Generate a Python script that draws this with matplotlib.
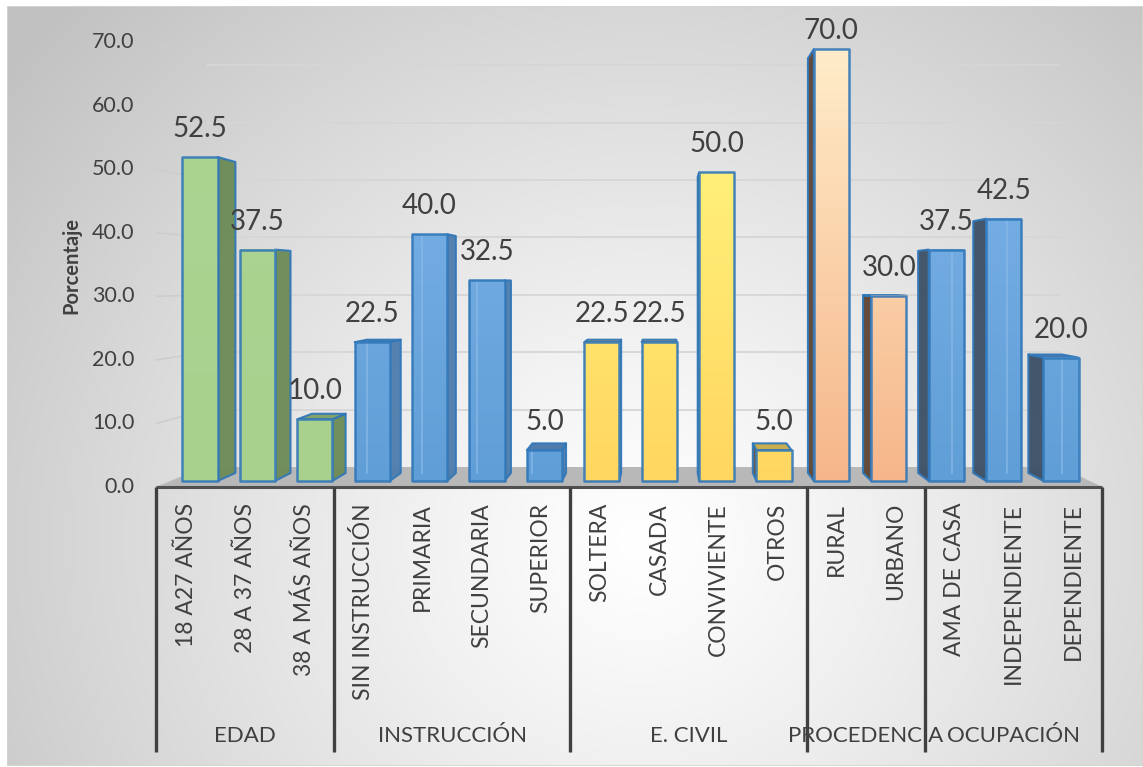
import numpy as np
import matplotlib
matplotlib.use("Agg")
import matplotlib.pyplot as plt
from matplotlib.patches import Polygon, Rectangle

# ---- data -------------------------------------------------------------
group_names = ["EDAD", "INSTRUCCIÓN", "E. CIVIL", "PROCEDENCIA", "OCUPACIÓN"]

edad_labels = ["18 A27 AÑOS", "28 A 37 AÑOS", "38 A MÁS AÑOS"]
edad_values = [52.5, 37.5, 10.0]

instruccion_labels = ["SIN INSTRUCCIÓN", "PRIMARIA", "SECUNDARIA", "SUPERIOR"]
instruccion_values = [22.5, 40.0, 32.5, 5.0]

civil_labels = ["SOLTERA", "CASADA", "CONVIVIENTE", "OTROS"]
civil_values = [22.5, 22.5, 50.0, 5.0]

procedencia_labels = ["RURAL", "URBANO"]
procedencia_values = [70.0, 30.0]

ocupacion_labels = ["AMA DE CASA", "INDEPENDIENTE", "DEPENDIENTE"]
ocupacion_values = [37.5, 42.5, 20.0]

y_ticks = [0, 10, 20, 30, 40, 50, 60, 70]
y_label = "Porcentaje"

# ---- colours per group --------------------------------------------------
def rgb(r, g, b):
    return (r / 255, g / 255, b / 255)

palettes = {
    "green": dict(bottom=rgb(169, 209, 142), top=rgb(172, 212, 146),
                  side_r=rgb(107, 138, 85), side_l=rgb(80, 100, 62),
                  lid=rgb(126, 158, 99)),
    "blue": dict(bottom=rgb(96, 158, 215), top=rgb(128, 182, 234),
                 side_r=rgb(78, 124, 172), side_l=rgb(59, 79, 102),
                 lid=rgb(72, 116, 165)),
    "yellow": dict(bottom=rgb(255, 214, 96), top=rgb(255, 250, 130),
                   side_r=rgb(190, 160, 70), side_l=rgb(105, 85, 55),
                   lid=rgb(200, 168, 72)),
    "peach": dict(bottom=rgb(246, 182, 138), top=rgb(255, 236, 200),
                  side_r=rgb(190, 130, 90), side_l=rgb(94, 68, 52),
                  lid=rgb(190, 130, 90)),
}
group_palettes = ["green", "blue", "yellow", "peach", "blue"]

group_labels = [edad_labels, instruccion_labels, civil_labels,
                procedencia_labels, ocupacion_labels]
group_values = [edad_values, instruccion_values, civil_values,
                procedencia_values, ocupacion_values]

labels, values, pal_of_bar, group_bounds = [], [], [], []
start = 0
for labs, vals, pal in zip(group_labels, group_values, group_palettes):
    labels += labs
    values += vals
    pal_of_bar += [pal] * len(vals)
    group_bounds.append((start, start + len(vals) - 1))
    start += len(vals)
n = len(values)

# ---- figure / perspective set-up ----------------------------------------
W, H = 1143, 767
fig = plt.figure(figsize=(W / 100, H / 100), dpi=100, facecolor="white")
FONT = "Lato"
TXT = "#404040"

# background panel with a soft radial gradient
bg = fig.add_axes([7 / W, 1 / H, (W - 7) / W, 760 / H])
bg.set_axis_off()
yy, xx = np.mgrid[0:760, 0:W - 7]
d = np.hypot(xx + 7 - 640, (yy + 6 - 540) * 1.05)
t = np.clip(d / 800, 0, 1) ** 1.15
g = 1.0 - t * (1.0 - 0.76)
img = np.dstack([g, g, g])
bg.imshow(img, extent=(0, 1, 0, 1), aspect="auto", origin="upper")
bg.set_xlim(0, 1)
bg.set_ylim(0, 1)
bg.add_patch(Rectangle((0, 0), 1, 1, fill=False, ec=rgb(212, 212, 212),
                       lw=1.2, transform=bg.transAxes))

ax = fig.add_axes([0, 0, 1, 1])
ax.patch.set_alpha(0)
ax.set_axis_off()
PX0, PXS, PY0, PYS = 200.0, 57.4, 481.0, 6.171
XLIM = (-PX0 / PXS, (W - PX0) / PXS)
YLIM = (-(H - PY0) / PYS, PY0 / PYS)

# vanishing point (data units) and depth planes
VX, VY = (665 - PX0) / PXS, (PY0 - 281) / PYS
S_FRONT, S_BACKBAR, S_WALL, S_AXIS = 1.0, 0.96, 0.93, 1.03
BW = 0.61
X_LEFT, X_RIGHT = -0.5, n - 0.5


def P(x, y, s):
    return (VX + s * (x - VX), VY + s * (y - VY))


def px_to_dy(p):
    return p / PYS


# back wall gridlines + left wall lines
grid_c = rgb(214, 214, 214)
for v in y_ticks:
    a, b = P(X_LEFT, v, S_WALL), P(X_RIGHT, v, S_WALL)
    if v > 0:
        ax.plot([a[0], b[0]], [a[1], b[1]], color=grid_c, lw=1.3, zorder=1)
    c = P(X_LEFT, v, S_AXIS)
    ax.plot([c[0], a[0]], [c[1], a[1]], color=rgb(205, 205, 205), lw=1.2, zorder=1)

# floor
floor = [P(X_LEFT, 0, S_WALL), P(X_RIGHT, 0, S_WALL),
         P(X_RIGHT, 0, S_AXIS), P(X_LEFT, 0, S_AXIS)]
ax.add_patch(Polygon(floor, closed=True, fc=rgb(184, 184, 184), ec="none", zorder=2))

# bars
OUT = rgb(50, 120, 185)
for i, (v, pk) in enumerate(zip(values, pal_of_bar)):
    pal = palettes[pk]
    x0, x1 = i - BW / 2, i + BW / 2
    z = 3 + i * 0.01
    # side face
    if x1 < VX:
        sx, sc = x1, pal["side_r"]
    elif x0 > VX:
        sx, sc = x0, pal["side_l"]
    else:
        sx = None
    if sx is not None:
        side = [P(sx, 0, S_FRONT), P(sx, v, S_FRONT), P(sx, v, S_BACKBAR), P(sx, 0, S_BACKBAR)]
        ax.add_patch(Polygon(side, closed=True, fc=sc, ec=OUT, lw=1.5,
                             alpha=0.95, joinstyle="round", zorder=z))
    # top face (seen from above when below eye level)
    if v < VY:
        lid = [P(x0, v, S_FRONT), P(x1, v, S_FRONT), P(x1, v, S_BACKBAR), P(x0, v, S_BACKBAR)]
        ax.add_patch(Polygon(lid, closed=True, fc=pal["lid"], ec=OUT, lw=1.5,
                             alpha=0.95, joinstyle="round", zorder=z))
    # front face with vertical gradient tied to the value scale
    ys = np.linspace(0, v, 64)
    f = (ys / 70.0)[:, None]
    col = np.array(pal["bottom"])[None, :] * (1 - f) + np.array(pal["top"])[None, :] * f
    ax.imshow(col[:, None, :], extent=(x0, x1, 0, v), origin="lower",
              aspect="auto", interpolation="bilinear", zorder=z + 0.002)
    # faint back edges showing through the blue boxes
    if pk == "blue":
        bx = P(x0 if i < VX else x1, 0, S_BACKBAR)[0]
        by0 = P(bx, 0, S_BACKBAR)[1]
        ax.plot([bx, bx], [max(by0, 0), min(P(bx, v, S_BACKBAR)[1], v)],
                color=rgb(138, 186, 232), lw=1.2, alpha=0.8, zorder=z + 0.003)
    ax.add_patch(Rectangle((x0, 0), BW, v, fill=False, ec=OUT, lw=1.8,
                           alpha=0.9, joinstyle="round", zorder=z + 0.004))
    # value label
    ly = min(v + px_to_dy(28), px_to_dy(PY0 - 31))
    ax.text(i, ly, f"{v:.1f}", ha="center", va="center", fontsize=20,
            family=FONT, color=TXT, zorder=10)

# value axis labels on the front edge of the left wall
for v in y_ticks:
    x, y = P(X_LEFT, v, S_AXIS)
    ax.annotate(f"{v:.1f}", (x, y), xytext=(-22, 0), textcoords="offset pixels",
                ha="right", va="center", fontsize=15.5, family=FONT, color=TXT)

ax.text((71 - PX0) / PXS, (PY0 - 266) / PYS, y_label,
        rotation=90, ha="center", va="center", fontsize=14.5, fontweight="bold",
        family=FONT, color=TXT, zorder=10)

# category axis: baseline, labels and group dividers
ya = P(X_LEFT, 0, S_AXIS)[1]
a, b = P(X_LEFT, 0, S_AXIS), P(X_RIGHT, 0, S_AXIS)
ax.plot([a[0], b[0]], [a[1], b[1]], color=rgb(80, 80, 80), lw=2.2,
        solid_capstyle="butt", zorder=6)

for i, lab in enumerate(labels):
    x, y = P(i, 0, S_AXIS)
    ax.annotate(lab, (x, y), xytext=(0, -16), textcoords="offset pixels",
                rotation=90, ha="center", va="top", fontsize=16.5, family=FONT,
                color=TXT)

y_bottom = ya - px_to_dy(752 - 487)
bounds = [X_LEFT] + [hi + 0.5 for _, hi in group_bounds]
for name, (lo, hi) in zip(group_names, group_bounds):
    x, _ = P((lo + hi) / 2, 0, S_AXIS)
    ax.text(x, ya - px_to_dy(736 - 487), name, ha="center", va="center",
            fontsize=16, family=FONT, color=TXT, zorder=7)
for bx in bounds:
    x, _ = P(bx, 0, S_AXIS)
    ax.plot([x, x], [ya, y_bottom], color=rgb(64, 64, 64), lw=2.4,
            solid_capstyle="butt", zorder=8)

ax.set_xlim(*XLIM)
ax.set_ylim(*YLIM)
ax.set_aspect("auto")

fig.savefig("out.png", dpi=100, facecolor="white")
